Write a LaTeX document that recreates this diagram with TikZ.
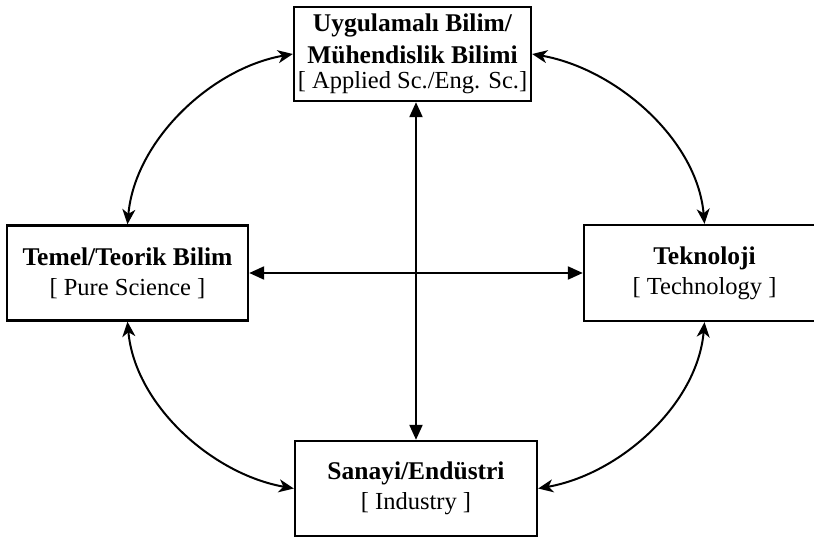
\documentclass[tikz,border=0pt]{standalone}
\usepackage{fontspec}
\setmainfont{Liberation Serif}
\usetikzlibrary{arrows.meta}
\newcommand{\regline}[1]{{\fontsize{24.5}{30}\selectfont #1}}
\begin{document}
\begin{tikzpicture}[x=1pt,y=-1pt,
  box/.style={draw, line width=2.4pt, align=center, inner sep=0pt,
    font=\fontsize{25.5}{30}\selectfont},
  curv/.style={line width=2pt, looseness=0.9, {Stealth[length=15pt,width=13pt,inset=4.5pt]}-{Stealth[length=15pt,width=13pt,inset=4.5pt]}},
  axis/.style={line width=2.2pt, {Triangle[length=15pt,width=13pt]}-{Triangle[length=15pt,width=13pt]}}]
\useasboundingbox (0,0) rectangle (814,537);
\clip (0,0) rectangle (814,537);
\node[box, minimum width=237pt, minimum height=94pt] (T) at (412.5,54)
  {\textbf{Uygulamalı Bilim/}\\[2pt] \textbf{Mühendislik Bilimi}\\[-5pt] \regline{{[} Applied Sc./Eng. Sc.{]}}};
\node[box, minimum width=241pt, minimum height=95pt] (L) at (127.5,273)
  {\textbf{Temel/Teorik Bilim}\\ \regline{{[} Pure Science {]}}};
\node[box, minimum width=241pt, minimum height=96pt] (R) at (704.5,273)
  {\textbf{Teknoloji}\\ \regline{{[} Technology {]}}};
\node[box, minimum width=242pt, minimum height=95pt] (B) at (416,488.5)
  {\textbf{Sanayi/Endüstri}\\ \regline{{[} Industry {]}}};
\draw[axis] (B.north |- T.south) -- (B.north);
\draw[axis] (L.east) -- (R.west);
\draw[curv] (L.north) to[out=85,in=190] (T.west);
\draw[curv] (T.east) to[out=-10,in=95] (R.north);
\draw[curv] (L.south) to[out=-85,in=170] (B.west);
\draw[curv] (R.south) to[out=-95,in=10] (B.east);
\end{tikzpicture}
\end{document}
